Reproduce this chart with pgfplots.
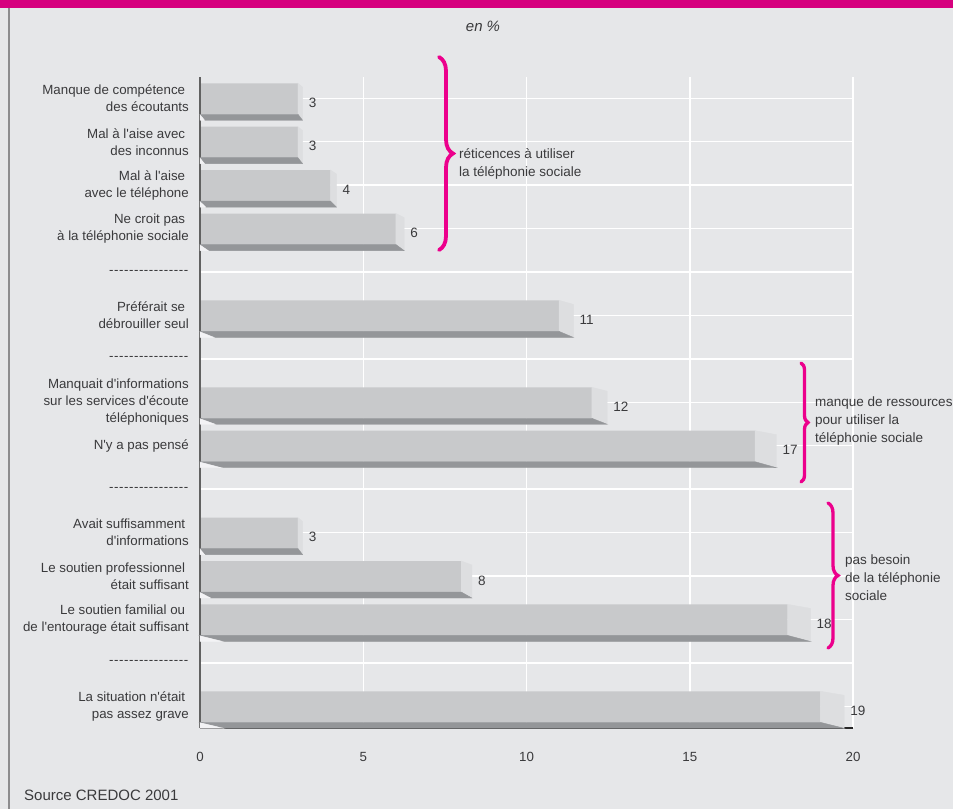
\documentclass[border=0pt]{standalone}
\usepackage{pgfplots}
\pgfplotsset{compat=1.18}
\usepackage{pgfplotstable}
\usepackage{fontspec}
\usetikzlibrary{decorations.pathreplacing}
\setmainfont{Liberation Sans}
\newfontfamily\lab{Liberation Sans}

\definecolor{bg}{RGB}{230,231,233}
\definecolor{banner}{RGB}{214,0,126}
\definecolor{bracecol}{RGB}{236,0,140}
\definecolor{frontcol}{RGB}{200,201,203}
\definecolor{sidecol}{RGB}{221,222,224}
\definecolor{bottomcol}{RGB}{148,150,153}
\definecolor{glint}{RGB}{243,243,245}
\definecolor{ink}{RGB}{58,58,60}
\definecolor{framecol}{RGB}{140,140,142}

% pos = vertical slot (15 = top row), v = share in %
\pgfplotstableread{
pos v
15 3
14 3
13 4
12 6
10 11
8 12
7 17
5 3
4 8
3 18
1 19
}\reasons

\pgfdeclareplotmark{blank}{}
\newcommand\hy{\mbox{-}\kern0.55pt}
\newcommand\sep{\hy\hy\hy\hy\hy\hy\hy\hy\hy\hy\hy\hy\hy\hy\hy\hy}
\newcommand\tsp{\hspace*{3.7pt}}

\begin{document}
\begin{tikzpicture}
\fill[bg] (0pt,0pt) rectangle (953pt,-809pt);
\fill[banner] (0pt,0pt) rectangle (953pt,-8pt);
\draw[framecol, line width=1.5pt] (9pt,-8pt) -- (9pt,-809pt);
\node[font=\lab\itshape\fontsize{15}{18}\selectfont, text=ink] at (483pt,-26pt) {en \%};

\begin{axis}[
  at={(200pt,-728pt)}, anchor=south west,
  scale only axis, x=32.65pt, y=43.43pt,
  xmin=0, xmax=20, ymin=0.5, ymax=15.5,
  clip=false,
  axis line style={draw=none},
  major tick length=0pt,
  xtick={0,5,10,15,20},
  ytick={1,...,15},
  yticklabels={
    {La situation n'était\tsp\\pas assez grave},
    {\sep},
    {Le soutien familial ou\tsp\\de l'entourage était suffisant},
    {Le soutien professionnel\tsp\\était suffisant},
    {Avait suffisamment\tsp\\d'informations},
    {\sep},
    {N'y a pas pensé},
    {Manquait d'informations\\sur les services d'écoute\\téléphoniques},
    {\sep},
    {Préférait se\tsp\\débrouiller seul},
    {\sep},
    {Ne croit pas\tsp\\à la téléphonie sociale},
    {Mal à l'aise\tsp\\avec le téléphone},
    {Mal à l'aise avec\tsp\\des inconnus},
    {Manque de compétence\tsp\\des écoutants}},
  grid=major,
  major grid style={white, line width=1.5pt},
  /pgf/number format/assume math mode=true,
  yticklabel style={anchor=east, align=right, inner sep=0pt, xshift=-11pt,
    font=\lab\fontsize{13.3}{17}\selectfont, text=ink},
  xticklabel style={anchor=north, inner sep=0pt, yshift=-24pt,
    font=\lab\fontsize{13.3}{16}\selectfont, text=ink},
]
% depth faces of the bars (right side and underside)
\addplot[scatter, only marks, mark=blank,
  visualization depends on={\thisrow{v} \as \val},
  scatter/@pre marker code/.code={%
    \pgfmathsetmacro\vpt{\val*32.65}%
    \pgfmathsetmacro\dpt{1.2*\val+1}%
    \fill[sidecol] (0pt,15pt) -- (\dpt pt,11pt) -- (\dpt pt,-22pt) -- (0pt,-16pt) -- cycle;
    \fill[bottomcol] (-\vpt pt,-16pt) -- (0pt,-16pt) -- (\dpt pt,-22pt) -- (\dpt pt-\vpt pt,-22pt) -- cycle;
    \fill[glint] (-\vpt pt,-16.5pt) -- (\dpt pt-\vpt pt,-22pt) -- (-\vpt pt,-22pt) -- cycle;
  },
  scatter/@post marker code/.code={},
] table[x=v, y=pos] {\reasons};
% front faces
\addplot[xbar, fill=frontcol, draw=none, bar width=31pt, bar shift=-0.5pt]
  table[x=v, y=pos] {\reasons};
% value labels
\addplot[draw=none, mark=none, nodes near coords, point meta=explicit,
  nodes near coords style={anchor=west, inner sep=0pt, yshift=-4.5pt,
    font=\lab\fontsize{13.5}{16}\selectfont, text=ink}]
  table[x expr=\thisrow{v}+(1.2*\thisrow{v}+7)/32.65, y=pos, meta=v] {\reasons};
% axis lines
\draw[black!62, line width=1.5pt] (axis cs:0,0.5) -- (axis cs:0,15.5);
\draw[black!85, line width=1.3pt] (axis cs:0,0.5) -- (axis cs:20,0.5);
\end{axis}

% group brackets
\draw[bracecol, line width=3.8pt, line cap=round, decorate, decoration={brace, amplitude=14pt}]
  (439pt,-57pt) -- (439pt,-250pt);
\draw[bracecol, line width=3.3pt, line cap=round, decorate, decoration={brace, amplitude=7pt}]
  (801pt,-363pt) -- (801pt,-482pt);
\draw[bracecol, line width=3.3pt, line cap=round, decorate, decoration={brace, amplitude=10pt}]
  (828pt,-503pt) -- (828pt,-648pt);
\begin{scope}[every node/.style={anchor=west, align=left, inner sep=0pt, text=ink,
    font=\lab\fontsize{13.5}{18}\selectfont}]
\node at (459pt,-164pt) {réticences à utiliser\\la téléphonie sociale};
\node at (815pt,-421pt) {manque de ressources\\pour utiliser la\\téléphonie sociale};
\node at (845pt,-578pt) {pas besoin\\de la téléphonie\\sociale};
\end{scope}
\node[anchor=west, inner sep=0pt, text=ink, font=\lab\fontsize{15}{18}\selectfont]
  at (24pt,-795pt) {Source CREDOC 2001};

\pgfresetboundingbox
\useasboundingbox (0pt,0pt) rectangle (953pt,-809pt);
\end{tikzpicture}
\end{document}
